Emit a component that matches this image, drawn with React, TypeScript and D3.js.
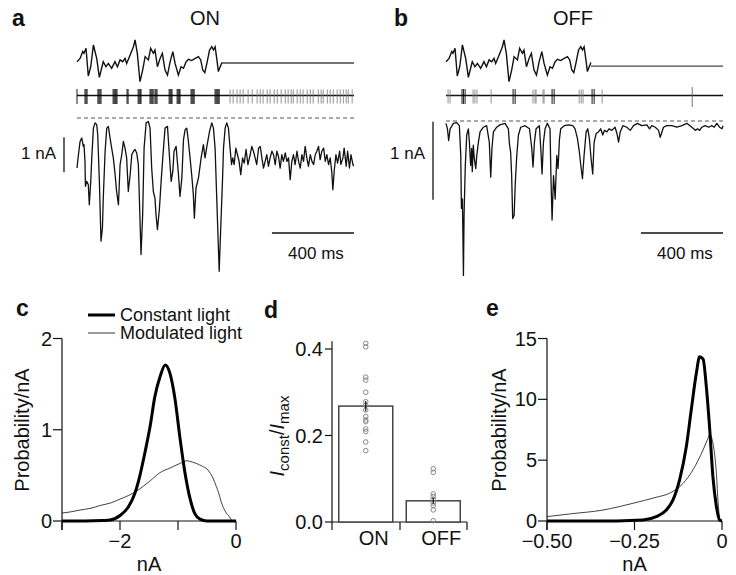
import React from 'react';
import * as d3 from 'd3';

const FONT = "'Liberation Sans', Arial, Helvetica, sans-serif";

// ---- panel a/b: light stimulus (relative contrast vs ms), same stimulus in both cells
const stimulus: [number, number][] = [
  [0, 0.06], [15, 0.21], [28, 0.52], [34, 0.44], [44, 0.67], [55, -0.59], [67, -0.17], [80, 0.82],
  [96, 0.21], [109, -0.65], [120, -0.24], [128, 0.06], [141, -0.17], [153, -0.02], [169, -0.24],
  [185, 0.06], [197, -0.17], [210, 0.14], [223, 0.06], [234, 0.21], [242, -0.02], [259, 0.36],
  [275, 0.74], [283, 1.05], [294, 0.44], [307, -0.85], [320, -0.32], [332, 0.29], [348, 0.14],
  [359, 0.67], [372, 0.44], [380, 0.59], [392, -0.17], [405, 0.21], [416, 0.44], [429, -0.32],
  [441, -0.55], [454, 0.06], [467, 0.52], [478, -0.02], [494, -0.55], [507, -0.17], [519, -0.24],
  [532, 0.06], [543, 0.17], [559, 0.11], [576, 0.21], [592, 0.29], [603, 0.14], [613, -0.32],
  [623, -0.44], [633, -0.02], [646, 0.59], [657, 0.74], [665, 0.59], [673, 0.74], [681, 0.21],
  [689, -0.39], [698, -0.17], [706, 0.02],
];
const stimEnd = 706;
const stimFlatOn = 0;
const stimFlatOff = -0.14;

// spike times (ms)
const spikesOnBurst = [0, 39, 44, 49, 102, 107, 112, 117, 176, 181, 186, 190, 195, 244, 249, 298, 303, 308, 312,
  356, 361, 366, 371, 380, 385, 390, 449, 454, 459, 463, 488, 493, 498, 502, 556, 561, 566, 571,
  673, 678, 683, 688, 693];
const spikesOnTonic = [746, 761, 780, 795, 810, 834, 854, 878, 893, 907, 927, 941, 961, 976, 995, 1015, 1029,
  1044, 1054, 1073, 1088, 1102, 1122, 1137, 1151, 1176, 1190, 1200, 1220, 1234, 1249, 1268, 1283, 1298,
  1312, 1322, 1341];
const spikesOffBurst = [78, 85, 93, 327, 337, 517, 527, 712, 722];
const spikesOffSingle = [10, 20, 132, 141, 151, 220, 424, 434, 439, 473, 478, 649, 659, 668, 761];
const spikesOffTall = [1200];

// membrane currents (ms, nA)
const currentOn: [number, number][] = [
  [0, -1.43], [7, -1.05], [15, -0.67], [23, -0.57], [31, -0.81], [34, -0.76], [39, -1.24], [41, -1.95],
  [47, -1.81], [55, -1.9], [60, -2.48], [67, -1.81], [72, -1.14], [80, -0.29], [88, -0.14], [96, -0.19],
  [101, -0.48], [109, -1.81], [117, -3.52], [124, -3.14], [128, -2.29], [137, -0.95], [145, -0.29],
  [153, -0.24], [161, -0.57], [169, -0.86], [177, -1.14], [185, -1.57], [193, -2.1], [202, -2.48],
  [210, -1.33], [218, -1.05], [226, -0.67], [234, -0.86], [242, -1.14], [250, -2.1], [259, -1.62],
  [267, -1.05], [275, -0.95], [283, -0.9], [291, -1.0], [299, -1.33], [304, -2.29], [312, -3.9],
  [320, -2.76], [327, -0.86], [337, -0.14], [348, -0.1], [356, -0.29], [364, -1.43], [372, -2.1],
  [380, -2.29], [385, -2.76], [392, -3.19], [402, -2.57], [410, -1.81], [418, -1.14], [429, -0.29],
  [441, -0.24], [450, -1.05], [459, -1.81], [467, -1.52], [473, -0.95], [483, -0.81], [489, -1.24],
  [494, -1.57], [502, -2.24], [511, -1.71], [519, -0.62], [527, -0.33], [535, -0.29], [543, -0.67],
  [551, -1.14], [559, -1.62], [567, -2.19], [572, -2.86], [580, -2.0], [592, -1.71], [605, -1.14],
  [616, -0.76], [624, -1.14], [633, -0.81], [646, -0.38], [657, -0.14], [665, -0.29], [673, -0.86],
  [681, -2.29], [693, -4.38], [701, -3.05], [709, -1.81], [714, -0.86], [722, -0.29], [730, -0.14],
  [738, -0.29], [746, -0.86], [753, -1.33], [759, -1.14], [766, -1.33], [774, -0.86], [782, -1.05],
  [790, -1.24], [798, -1.62], [807, -1.14], [815, -1.29], [824, -0.9], [833, -1.33], [844, -1.05],
  [852, -0.81], [860, -0.95], [868, -1.14], [876, -1.33], [885, -0.86], [893, -0.81], [901, -1.14],
  [909, -1.43], [917, -1.24], [925, -1.05], [933, -1.38], [941, -1.14], [950, -0.95], [958, -1.05],
  [966, -1.33], [974, -0.95], [982, -1.1], [990, -1.43], [998, -1.05], [1006, -1.24], [1015, -1.0],
  [1023, -1.24], [1031, -1.14], [1039, -1.76], [1047, -1.24], [1055, -1.05], [1063, -1.33], [1072, -0.95],
  [1080, -1.24], [1088, -1.43], [1096, -1.05], [1104, -1.24], [1112, -0.81], [1120, -1.14], [1128, -1.38],
  [1137, -1.05], [1145, -1.24], [1153, -1.33], [1161, -1.05], [1169, -0.95], [1177, -0.81], [1185, -1.19],
  [1193, -0.95], [1202, -0.86], [1210, -1.24], [1218, -1.05], [1226, -1.33], [1234, -1.14], [1242, -1.57],
  [1247, -2.05], [1254, -1.48], [1262, -1.05], [1270, -1.29], [1280, -0.95], [1286, -1.33], [1296, -1.14],
  [1302, -0.86], [1312, -1.38], [1319, -0.95], [1328, -1.43], [1335, -1.05], [1345, -1.33], [1348, -1.38],
];

const currentOff: [number, number][] = [
  [0, -0.03], [7, -0.1], [13, -0.25], [20, -0.1], [36, -0.03], [52, -0.02], [65, -0.06], [72, -0.44],
  [75, -1.12], [80, -1.0], [85, -1.98], [88, -1.21], [94, -0.57], [101, -0.18], [109, -0.1], [114, -0.27],
  [120, -0.57], [125, -0.35], [128, -0.65], [133, -0.31], [138, -0.48], [145, -0.61], [150, -0.44],
  [158, -0.27], [166, -0.14], [182, -0.08], [198, -0.06], [211, -0.27], [218, -0.72], [224, -0.35],
  [231, -0.14], [247, -0.08], [263, -0.05], [288, -0.03], [304, -0.1], [309, -0.29], [315, -0.4],
  [320, -0.7], [325, -1.25], [332, -1.21], [338, -0.78], [345, -0.44], [353, -0.18], [364, -0.08],
  [385, -0.06], [407, -0.1], [418, -0.35], [424, -0.59], [431, -0.27], [439, -0.1], [455, -0.06],
  [463, -0.4], [468, -0.68], [475, -0.27], [483, -0.1], [494, -0.03], [507, -0.1], [512, -0.78],
  [517, -1.27], [524, -0.7], [532, -1.0], [540, -0.44], [546, -0.61], [553, -0.23], [559, -0.1],
  [576, -0.06], [597, -0.05], [618, -0.06], [629, -0.1], [641, -0.23], [650, -0.4], [657, -0.57],
  [665, -0.74], [673, -0.44], [683, -0.14], [691, -0.1], [699, -0.23], [707, -0.48], [715, -0.68],
  [722, -0.27], [732, -0.16], [743, -0.14], [754, -0.1], [764, -0.18], [772, -0.12], [784, -0.14],
  [795, -0.1], [808, -0.12], [824, -0.08], [833, -0.16], [841, -0.27], [849, -0.14], [862, -0.06],
  [881, -0.08], [898, -0.12], [914, -0.06], [933, -0.03], [954, -0.06], [979, -0.05], [992, -0.1],
  [1003, -0.06], [1020, -0.08], [1036, -0.12], [1044, -0.21], [1050, -0.16], [1060, -0.08], [1076, -0.06],
  [1101, -0.06], [1125, -0.08], [1150, -0.06], [1174, -0.03], [1198, -0.08], [1207, -0.1], [1215, -0.12],
  [1226, -0.1], [1236, -0.12], [1247, -0.08], [1263, -0.06], [1280, -0.08], [1296, -0.06], [1307, -0.08],
  [1320, -0.03], [1333, -0.08], [1345, -0.1], [1350, -0.06],
];

// ---- panel c: current histograms, ON cell (nA, probability/nA)
const histOnConst: [number, number][] = [
  [-3, 0], [-2.6, 0], [-2.3, 0.005], [-2.17, 0.01], [-2.0, 0.06], [-1.86, 0.15], [-1.74, 0.31], [-1.66, 0.49],
  [-1.57, 0.75], [-1.48, 1.04], [-1.4, 1.36], [-1.31, 1.58], [-1.22, 1.71], [-1.14, 1.62], [-1.05, 1.33],
  [-0.97, 0.93], [-0.88, 0.53], [-0.79, 0.24], [-0.71, 0.08], [-0.62, 0.02], [-0.5, 0], [0, 0],
];
const histOnMod: [number, number][] = [
  [-3.0, 0.087], [-2.85, 0.1], [-2.69, 0.12], [-2.5, 0.14], [-2.34, 0.17], [-2.15, 0.2], [-2.0, 0.24],
  [-1.85, 0.28], [-1.71, 0.33], [-1.6, 0.38], [-1.48, 0.44], [-1.31, 0.53], [-1.14, 0.58], [-0.97, 0.63],
  [-0.85, 0.66], [-0.75, 0.645], [-0.68, 0.63], [-0.58, 0.6], [-0.5, 0.57], [-0.44, 0.52], [-0.39, 0.46],
  [-0.34, 0.38], [-0.3, 0.31], [-0.26, 0.22], [-0.22, 0.15], [-0.17, 0.09], [-0.13, 0.06], [-0.05, 0.0], [0, 0],
];
const legendLabels = ['Constant light', 'Modulated light'];

// ---- panel d: Iconst/Imax per cell
const cellTypes = ['ON', 'OFF'];
const ratioMeans = [0.268, 0.049];
const ratioSem = [0.012, 0.007];
const ratioOnCells = [0.413, 0.405, 0.335, 0.328, 0.3, 0.278, 0.27, 0.259, 0.244, 0.236, 0.232, 0.215, 0.209, 0.185, 0.165];
const ratioOffCells = [0.123, 0.115, 0.065, 0.059, 0.052, 0.044, 0.038, 0.028, 0.003];

// ---- panel e: current histograms, OFF cell
const histOffConst: [number, number][] = [
  [-0.5, 0], [-0.3, 0.01], [-0.226, 0.08], [-0.188, 0.36], [-0.159, 0.9], [-0.14, 1.73], [-0.121, 3.4],
  [-0.102, 6.1], [-0.088, 9.1], [-0.073, 12.2], [-0.064, 13.5], [-0.054, 13.3], [-0.045, 11.1],
  [-0.035, 7.5], [-0.026, 3.65], [-0.016, 1.2], [-0.007, 0.08], [0, 0],
];
const histOffMod: [number, number][] = [
  [-0.5, 0.36], [-0.435, 0.58], [-0.34, 0.9], [-0.254, 1.46], [-0.188, 1.95], [-0.15, 2.28], [-0.111, 3.1],
  [-0.083, 4.2], [-0.054, 5.85], [-0.04, 6.8], [-0.035, 7.1], [-0.026, 6.4], [-0.016, 3.9], [-0.011, 1.46],
  [-0.005, 0.08], [0, 0],
];

function Txt(props: any) {
  const { x, y, size = 18, anchor = 'start', weight = 'normal', children, rotate } = props;
  const transform = rotate ? `translate(${x},${y}) rotate(${rotate})` : undefined;
  return (
    <text
      x={rotate ? 0 : x}
      y={rotate ? 0 : y}
      transform={transform}
      fontSize={size}
      fontFamily={FONT}
      fontWeight={weight}
      textAnchor={anchor}
      fill="#111"
    >
      {children}
    </text>
  );
}

function TracePanel(props: any) {
  const { x0, x1, title, titleX, letter, letterX, cur, curPxPerNa, dashY, stimFlat, barX, barTop,
    burst, single, tall } = props;
  const xs = d3.scaleLinear().domain([0, 1350]).range([x0, x1]);
  const ys = d3.scaleLinear().domain([0, 1]).range([63, 41]);
  const yc = d3.scaleLinear().domain([0, -1]).range([dashY, dashY + curPxPerNa]);
  const stimLine = d3.line<[number, number]>().x(d => xs(d[0])).y(d => ys(d[1]));
  const curLine = d3.line<[number, number]>().x(d => xs(d[0])).y(d => yc(d[1]));
  const spikeY = 95.5;
  return (
    <g>
      <Txt x={letterX} y={26} size={23} weight="bold">{letter}</Txt>
      <Txt x={titleX} y={25} size={20} anchor="middle">{title}</Txt>
      <path d={stimLine(stimulus) || ''} fill="none" stroke="#111" strokeWidth={1.4} />
      <line x1={xs(stimEnd)} x2={xs(1350)} y1={ys(stimFlat)} y2={ys(stimFlat)} stroke="#444" strokeWidth={1.3} />
      <line x1={xs(0)} x2={xs(1350)} y1={spikeY} y2={spikeY} stroke="#111" strokeWidth={1.3} />
      {single.map((t: number, i: number) => (
        <line key={'s' + i} x1={xs(t)} x2={xs(t)} y1={89.5} y2={103.5} stroke="#777" strokeWidth={0.8} />
      ))}
      {burst.map((t: number, i: number) => (
        <line key={'b' + i} x1={xs(t)} x2={xs(t)} y1={89} y2={104} stroke="#000" strokeWidth={0.9} />
      ))}
      {tall.map((t: number, i: number) => (
        <line key={'t' + i} x1={xs(t)} x2={xs(t)} y1={87} y2={107} stroke="#666" strokeWidth={0.9} />
      ))}
      <line x1={xs(0)} x2={xs(1350)} y1={dashY} y2={dashY} stroke="#555" strokeWidth={1.2} strokeDasharray="4,3" />
      <path d={curLine(cur) || ''} fill="none" stroke="#111" strokeWidth={1.3} strokeLinejoin="round" />
      <line x1={barX} x2={barX} y1={yc(barTop)} y2={yc(barTop - 1)} stroke="#111" strokeWidth={1.3} />
      <Txt x={barX - 8} y={159} size={17} anchor="end">1 nA</Txt>
      <line x1={xs(950)} x2={xs(1350)} y1={233} y2={233} stroke="#111" strokeWidth={1.3} />
      <Txt x={(xs(950) + xs(1350)) / 2 + 3} y={259} size={17} anchor="middle">400 ms</Txt>
    </g>
  );
}

function HistPanel(props: any) {
  const { x0, x1, xDomain, yMax, xTicks, xTickLabels, yTicks, yTickLabels, thick, thin, letter, letterX,
    legend, yLabelX } = props;
  const xs = d3.scaleLinear().domain(xDomain).range([x0, x1]);
  const ys = d3.scaleLinear().domain([0, yMax]).range([521, 338.5]);
  const line = d3.line<[number, number]>().x(d => xs(d[0])).y(d => ys(d[1])).curve(d3.curveMonotoneX);
  return (
    <g>
      <Txt x={letterX} y={316} size={23} weight="bold">{letter}</Txt>
      <line x1={x0} x2={x0} y1={ys(yMax)} y2={530} stroke="#111" strokeWidth={1.2} />
      <line x1={x0} x2={x1} y1={521} y2={521} stroke="#111" strokeWidth={1.2} />
      {yTicks.map((v: number, i: number) => (
        <g key={'y' + i}>
          <line x1={x0 - 9} x2={x0} y1={ys(v)} y2={ys(v)} stroke="#111" strokeWidth={1.2} />
          <Txt x={x0 - 10} y={ys(v) + 7} size={20} anchor="end">{yTickLabels[i]}</Txt>
        </g>
      ))}
      {xTicks.map((v: number, i: number) => (
        <g key={'x' + i}>
          <line x1={xs(v)} x2={xs(v)} y1={521} y2={530} stroke="#111" strokeWidth={1.2} />
          {xTickLabels[i] ? <Txt x={xs(v)} y={548} size={20} anchor="middle">{xTickLabels[i]}</Txt> : null}
        </g>
      ))}
      <Txt x={(x0 + x1) / 2} y={571} size={20} anchor="middle">nA</Txt>
      <Txt x={yLabelX} y={430} size={20} anchor="middle" rotate={-90}>Probability/nA</Txt>
      <path d={line(thin) || ''} fill="none" stroke="#111" strokeWidth={0.8} />
      <path d={line(thick) || ''} fill="none" stroke="#000" strokeWidth={3} strokeLinejoin="round" />
      {legend ? (
        <g>
          <line x1={88} x2={115} y1={315} y2={315} stroke="#000" strokeWidth={3} />
          <Txt x={120} y={321} size={18}>{legend[0]}</Txt>
          <line x1={88} x2={115} y1={333} y2={333} stroke="#000" strokeWidth={0.8} />
          <Txt x={120} y={339} size={18}>{legend[1]}</Txt>
        </g>
      ) : null}
    </g>
  );
}

function BarPanel() {
  const xb = d3.scaleBand<string>().domain(cellTypes).range([332, 467]).paddingInner(0.2).paddingOuter(0.1);
  const ys = d3.scaleLinear().domain([0, 0.4]).range([522, 349]);
  const cells = [ratioOnCells, ratioOffCells];
  return (
    <g>
      <Txt x={264} y={318} size={23} weight="bold">d</Txt>
      <line x1={332} x2={332} y1={ys(0.418)} y2={530} stroke="#111" strokeWidth={1.2} />
      <line x1={332} x2={467} y1={522} y2={522} stroke="#111" strokeWidth={1.2} />
      {[0, 0.2, 0.4].map(v => (
        <g key={v}>
          <line x1={325} x2={332} y1={ys(v)} y2={ys(v)} stroke="#111" strokeWidth={1.2} />
          <Txt x={323} y={ys(v) + 7} size={20} anchor="end">{v.toFixed(1)}</Txt>
        </g>
      ))}
      {[400, 467].map(x => (
        <line key={x} x1={x} x2={x} y1={522} y2={530} stroke="#111" strokeWidth={1.2} />
      ))}
      {cellTypes.map((c, i) => {
        const bx = xb(c) as number;
        const cx = bx + xb.bandwidth() / 2;
        return (
          <g key={c}>
            <rect x={bx} y={ys(ratioMeans[i])} width={xb.bandwidth()} height={ys(0) - ys(ratioMeans[i])}
              fill="#fff" stroke="#444" strokeWidth={1.5} />
            {cells[i].map((v, j) => (
              <circle key={j} cx={cx} cy={ys(v)} r={2.3} fill="none" stroke="#888" strokeWidth={1} />
            ))}
            <line x1={cx} x2={cx} y1={ys(ratioMeans[i] + ratioSem[i])} y2={ys(ratioMeans[i] - ratioSem[i])}
              stroke="#111" strokeWidth={1.2} />
            <Txt x={cx + 8} y={545} size={20} anchor="middle">{c}</Txt>
          </g>
        );
      })}
      <text transform="translate(284,436) rotate(-90)" fontSize={20} fontFamily={FONT} textAnchor="middle" fill="#111">
        <tspan fontStyle="italic">I</tspan>
        <tspan fontSize={15} dy={5}>const</tspan>
        <tspan dy={-5}>/</tspan>
        <tspan fontStyle="italic">I</tspan>
        <tspan fontSize={15} dy={5}>max</tspan>
      </text>
    </g>
  );
}

export default function App() {
  return (
    <svg width={736} height={575} style={{ position: 'absolute', left: 0, top: 0, background: '#fff' }}>
      <rect width={736} height={575} fill="#fff" />
      <TracePanel x0={77} x1={354} title="ON" titleX={205} letter="a" letterX={12} cur={currentOn}
        curPxPerNa={35} dashY={118} stimFlat={stimFlatOn} barX={64} barTop={-0.55}
        burst={spikesOnBurst} single={spikesOnTonic} tall={[]} />
      <TracePanel x0={446} x1={723} title="OFF" titleX={573} letter="b" letterX={394} cur={currentOff}
        curPxPerNa={78} dashY={121} stimFlat={stimFlatOff} barX={433} barTop={-0.01}
        burst={spikesOffBurst} single={spikesOffSingle} tall={spikesOffTall} />
      <HistPanel x0={62} x1={236} xDomain={[-3, 0]} yMax={2} xTicks={[-3, -2, -1, 0]}
        xTickLabels={['', '\u22122', '', '0']} yTicks={[0, 1, 2]} yTickLabels={['0', '1', '2']}
        thick={histOnConst} thin={histOnMod} letter="c" letterX={16} legend={legendLabels} yLabelX={29} />
      <BarPanel />
      <HistPanel x0={547} x1={722} xDomain={[-0.5, 0]} yMax={15} xTicks={[-0.5, -0.25, 0]}
        xTickLabels={['\u22120.50', '\u22120.25', '0']} yTicks={[0, 5, 10, 15]} yTickLabels={['0', '5', '10', '15']}
        thick={histOffConst} thin={histOffMod} letter="e" letterX={486} yLabelX={506} />
    </svg>
  );
}
